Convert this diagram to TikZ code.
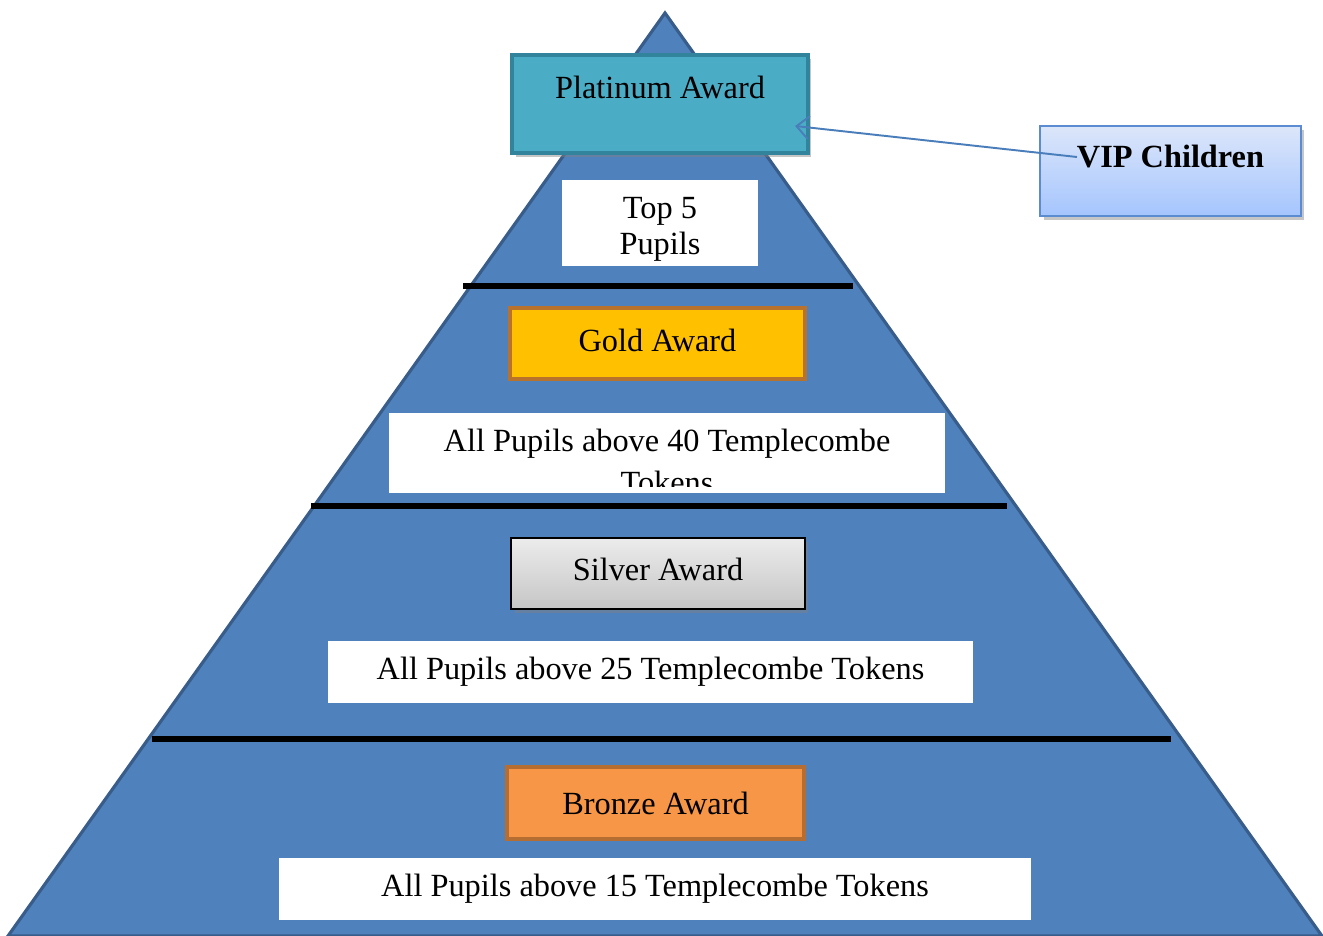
\documentclass[tikz,border=0pt]{standalone}
\usepackage{fontspec}
\setmainfont{Liberation Serif}
\usetikzlibrary{shadows,arrows.meta}

\definecolor{pyrfill}{HTML}{4F81BD}
\definecolor{pyrline}{HTML}{385D8A}
\definecolor{platfill}{HTML}{4BACC6}
\definecolor{platline}{HTML}{31849B}
\definecolor{goldfill}{HTML}{FFC000}
\definecolor{goldline}{HTML}{B8722C}
\definecolor{bronzefill}{HTML}{F79646}
\definecolor{bronzeline}{HTML}{B66D31}
\definecolor{viptop}{HTML}{DCE6FA}
\definecolor{vipbot}{HTML}{A5C5FE}
\definecolor{vipline}{HTML}{5B8BD0}
\definecolor{arrowblue}{HTML}{4A7EBB}

\tikzset{
  awardtext/.style={font=\fontsize{18.4}{20.5}\selectfont, align=flush center},
  awardbox/.style={awardtext, draw, line width=2.4pt, minimum height=1.42cm, inner sep=0pt},
  whitebox/.style={awardtext, fill=white, inner sep=0pt},
  divider/.style={line width=3.4pt, black},
  boxshadow/.style={drop shadow={shadow xshift=2pt, shadow yshift=-2pt, opacity=0.45}}
}

\begin{document}
\begin{tikzpicture}[x=0.02cm, y=-0.02cm]
		\useasboundingbox (0,0) rectangle (1323,936);
		% pyramid
		\draw[pyrline, fill=pyrfill, line width=1.8pt, line join=miter] (665,13) -- (1322,936) -- (8,936) -- cycle;

		% top level
		\node[awardbox, boxshadow, draw=platline, fill=platfill, minimum width=5.92cm, text height=0.88cm, text depth=1.08cm] (plat) at (660,104) {Platinum Award};
		\node[whitebox, text width=3.92cm, text height=0.76cm, text depth=0.96cm] (top5) at (660,223) {Top 5\\Pupils};
		\draw[divider] (463,286) -- (853,286);

		% gold level
		\node[awardbox, draw=goldline, fill=goldfill, minimum width=5.9cm, text height=0.88cm, text depth=0.54cm] (gold) at (657.5,343.5) {Gold Award};
		\node[whitebox, minimum width=11.12cm, minimum height=1.6cm] (tok40) at (667,453) {};
		\begin{scope}
			\clip (tok40.north west) rectangle (945,486);
			\node[awardtext, font=\fontsize{18.4}{24.4}\selectfont, inner sep=0pt, text width=11.12cm, text height=0.76cm, text depth=0.84cm] (tok40txt) at (tok40) {All Pupils above 40 Templecombe\\Tokens};
		\end{scope}
		\draw[divider] (311,506) -- (1007,506);

		% silver level
		\node[awardbox, boxshadow, draw=black, line width=1.2pt, top color=gray!15, bottom color=gray!45, minimum width=5.88cm, text height=0.84cm, text depth=0.58cm] (silver) at (658,573.5) {Silver Award};
		\node[whitebox, minimum width=12.9cm, minimum height=1.24cm] (tok25) at (650.5,672) {All Pupils above 25 Templecombe Tokens};
		\draw[divider] (152,739) -- (1171,739);

		% bronze level
		\node[awardbox, draw=bronzeline, fill=bronzefill, minimum width=5.94cm, minimum height=1.44cm] (bronze) at (655.5,803) {Bronze Award};
		\node[whitebox, minimum width=15.04cm, minimum height=1.24cm] (tok15) at (655,889) {All Pupils above 15 Templecombe Tokens};

		% callout
		\node[awardtext, boxshadow, draw=vipline, line width=0.8pt, top color=viptop, bottom color=vipbot, inner sep=0pt, minimum width=5.22cm, text height=0.84cm, text depth=0.96cm] (vip) at (1170.5,171) {\textbf{VIP Children}};
		\draw[-{Straight Barb[length=7pt,width=13pt]}, arrowblue, line width=1.1pt] ([yshift=0.22cm]vip.text) -- ([xshift=-0.3cm,yshift=-0.44cm]plat.east);
	\end{tikzpicture}
\end{document}
